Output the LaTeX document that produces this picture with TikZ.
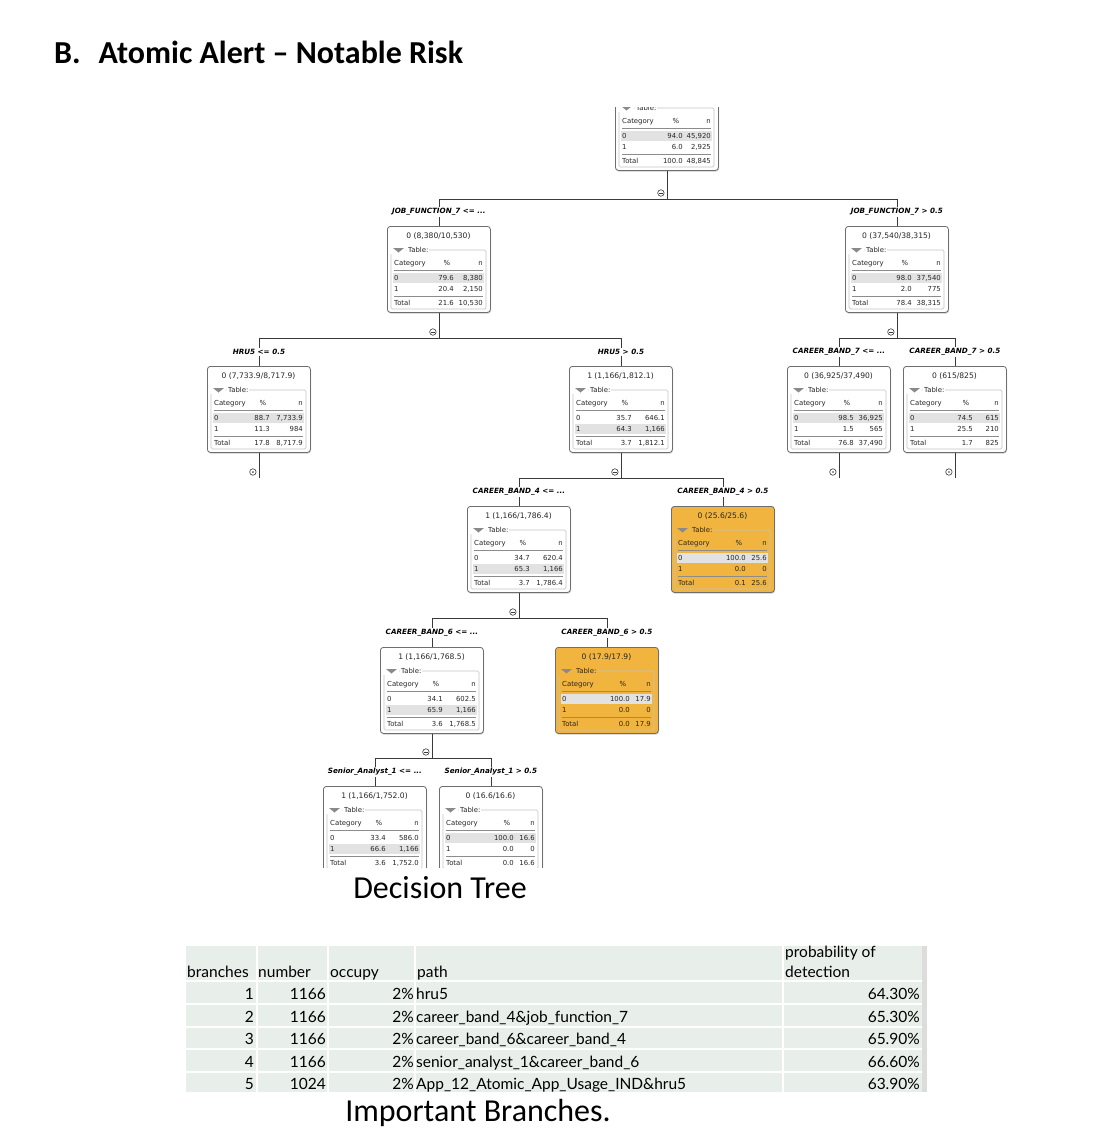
\documentclass[tikz,border=0pt]{standalone}
\usepackage{fontspec}
\setmainfont{DejaVu Sans}
\newfontfamily\capfont{Carlito}
\newfontfamily\tabfont{Lato}
\usetikzlibrary{calc}
\definecolor{boxline}{HTML}{6E6E6E}
\definecolor{edgecol}{HTML}{3A3A3A}
\definecolor{hlgray}{HTML}{E2E2E2}
\definecolor{framegray}{HTML}{C4C4C4}
\definecolor{orangebox}{RGB}{241,180,62}
\definecolor{tabbg}{HTML}{E8EFEB}
\definecolor{stripgray}{HTML}{DCDCDC}
\definecolor{trigray}{HTML}{8A8A8A}
\newcommand\tinyfont{\fontsize{6.9}{7}\selectfont}
\newcommand\hdrfont{\fontsize{7.6}{8}\selectfont}
\newcommand\lblfont{\fontsize{7.2}{8}\selectfont\bfseries\itshape}
\pgfkeys{/tb/.is family,/tb/.cd,
  pc/.store in=\tbpc, hl/.store in=\tbhl, bg/.store in=\tbbg,
  bx/.store in=\tbx, by/.store in=\tby}
\tikzset{
  tt/.style={font=\tinyfont, inner sep=0, text=black!85},
  treebox/.style={draw=boxline, line width=0.8, rounded corners=3, minimum width=103, minimum height=86, inner sep=0, anchor=north west},
  edge/.style={draw=edgecol, line width=0.8},
  lbl/.style={font=\lblfont, fill=white, inner sep=1},
  mcirc/.style={circle, draw=edgecol, fill=white, minimum size=6.5, inner sep=0, line width=0.6,
    path picture={\draw[edgecol, line width=0.6] ($(path picture bounding box.west)+(1.6,0)$) -- ($(path picture bounding box.east)+(-1.6,0)$);}},
  pcirc/.style={circle, draw=edgecol, fill=white, minimum size=6.5, inner sep=0, line width=0.6,
    path picture={\fill[edgecol] (path picture bounding box.center) circle (0.9);}},
  tabtxt/.style={font=\tabfont\fontsize{15.5}{17}\selectfont, inner sep=0},
  captxt/.style={font=\capfont\fontsize{32}{34}\selectfont, inner sep=0},
}
% box: [opts]{name}{header}{r0%}{r0n}{r1%}{r1n}{tot%}{totn}
\newcommand\tbox[9][]{%
  \pgfkeys{/tb/.cd,pc=68,hl=0,bg=white,bx=0,by=0,#1}%
  \fill[black!20, rounded corners=3] (\tbx+1,\tby+1.6) rectangle ++(103,86);
  \node[treebox, fill=\tbbg] (#2) at (\tbx,\tby) {};
  \begin{scope}[shift={(\tbx,\tby)}]
    \if\relax\detokenize{#3}\relax\else
      \node[tt, font=\hdrfont, anchor=base] (#2-h) at (51.5,12) {#3};\fi
    \draw[framegray, line width=0.7, rounded corners=1.5] (4,24) rectangle (99,83);
    \fill[\tbbg] (3,20.5) rectangle (19,27.5);
    \fill[trigray] (6,22) -- (17,22) -- (11.5,26.5) -- cycle;
    \node[tt, anchor=base west, fill=\tbbg, inner xsep=1, inner ysep=1] (#2-t) at (20,26.5) {Table:};
    \fill[hlgray] (6,46.5+11*\tbhl) rectangle (97,56.5+11*\tbhl);
    \node[tt, anchor=base west] (#2-c) at (7,39.5) {Category};
    \node[tt, anchor=base] (#2-p) at (\tbpc-7,39.5) {\%};
    \node[tt, anchor=base east] (#2-n) at (96,39.5) {n};
    \draw[black!45, line width=1] (7,44.5) -- (96,44.5);
    \draw[black!45, line width=1] (7,70) -- (96,70);
    \node[tt, anchor=base west] (#2-r0) at (7,54) {0};
    \node[tt, anchor=base east] (#2-r0p) at (\tbpc,54) {#4};
    \node[tt, anchor=base east] (#2-r0n) at (96,54) {#5};
    \node[tt, anchor=base west] (#2-r1) at (7,65) {1};
    \node[tt, anchor=base east] (#2-r1p) at (\tbpc,65) {#6};
    \node[tt, anchor=base east] (#2-r1n) at (96,65) {#7};
    \node[tt, anchor=base west] (#2-tt) at (7,79.5) {Total};
    \node[tt, anchor=base east] (#2-tp) at (\tbpc,79.5) {#8};
    \node[tt, anchor=base east] (#2-tn) at (96,79.5) {#9};
  \end{scope}}
\newcommand\tsplit[4]{%
  \coordinate (#1-y) at (0,#4);
  \draw[edge] (#1.south) -- (#1.south |- #1-y);
  \draw[edge] (#2.north) |- (#3.north |- #1-y) -- (#3.north);
  \node[mcirc] (#1-m) at ($(#1.south |- #1-y)+(-6,-6)$) {};}
\newcommand\tleaf[2]{%
  \coordinate (#1-y) at (0,#2);
  \draw[edge] (#1.south) -- (#1.south |- #1-y);
  \node[pcirc] (#1-m) at ($(#1.south |- #1-y)+(-6,-6)$) {};}
\newcommand\tlabel[2]{\node[lbl] (#1-l) at ($(#1.north)+(0,-14)$) {#2};}

\begin{document}
\begin{tikzpicture}[x=1pt,y=-1pt]
\useasboundingbox[fill=white] (0,0) rectangle (1114,1146);
\node[font=\capfont\bfseries\fontsize{32}{34}\selectfont, anchor=base west, inner sep=0] (title) at (54,63) {B.\hspace{18pt}Atomic Alert – Notable Risk};

\begin{scope}
\clip (0,107) rectangle (1114,867);
\tbox[bx=615,by=84,pc=68]{root}{}{94.0}{45,920}{6.0}{2,925}{100.0}{48,845}
\tbox[bx=387,by=226,pc=67]{jf7l}{0 (8,380/10,530)}{79.6}{8,380}{20.4}{2,150}{21.6}{10,530}
\tbox[bx=845,by=226,pc=67]{jf7r}{0 (37,540/38,315)}{98.0}{37,540}{2.0}{775}{78.4}{38,315}
\tbox[bx=207,by=366,pc=63]{hrul}{0 (7,733.9/8,717.9)}{88.7}{7,733.9}{11.3}{984}{17.8}{8,717.9}
\tbox[bx=569,by=366,pc=63,hl=1]{hrur}{1 (1,166/1,812.1)}{35.7}{646.1}{64.3}{1,166}{3.7}{1,812.1}
\tbox[bx=787,by=366,pc=67]{cb7l}{0 (36,925/37,490)}{98.5}{36,925}{1.5}{565}{76.8}{37,490}
\tbox[bx=903,by=366,pc=70]{cb7r}{0 (615/825)}{74.5}{615}{25.5}{210}{1.7}{825}
\tbox[bx=467,by=506,pc=63,hl=1]{cb4l}{1 (1,166/1,786.4)}{34.7}{620.4}{65.3}{1,166}{3.7}{1,786.4}
\tbox[bx=671,by=506,pc=75,bg=orangebox]{cb4r}{0 (25.6/25.6)}{100.0}{25.6}{0.0}{0}{0.1}{25.6}
\tbox[bx=380,by=647,pc=63,hl=1]{cb6l}{1 (1,166/1,768.5)}{34.1}{602.5}{65.9}{1,166}{3.6}{1,768.5}
\tbox[bx=555,by=647,pc=75,bg=orangebox]{cb6r}{0 (17.9/17.9)}{100.0}{17.9}{0.0}{0}{0.0}{17.9}
\tbox[bx=323,by=786,pc=63,hl=1]{sa1l}{1 (1,166/1,752.0)}{33.4}{586.0}{66.6}{1,166}{3.6}{1,752.0}
\tbox[bx=439,by=786,pc=75]{sa1r}{0 (16.6/16.6)}{100.0}{16.6}{0.0}{0}{0.0}{16.6}

\tsplit{root}{jf7l}{jf7r}{199}
\tsplit{jf7l}{hrul}{hrur}{338}
\tsplit{jf7r}{cb7l}{cb7r}{338}
\tsplit{hrur}{cb4l}{cb4r}{478}
\tsplit{cb4l}{cb6l}{cb6r}{618}
\tsplit{cb6l}{sa1l}{sa1r}{758}
\tleaf{hrul}{478}
\tleaf{cb7l}{478}
\tleaf{cb7r}{478}

\tlabel{jf7l}{JOB\_FUNCTION\_7 <= ...}
\tlabel{jf7r}{JOB\_FUNCTION\_7 > 0.5}
\tlabel{hrul}{HRU5 <= 0.5}
\tlabel{hrur}{HRU5 > 0.5}
\tlabel{cb7l}{CAREER\_BAND\_7 <= ...}
\tlabel{cb7r}{CAREER\_BAND\_7 > 0.5}
\tlabel{cb4l}{CAREER\_BAND\_4 <= ...}
\tlabel{cb4r}{CAREER\_BAND\_4 > 0.5}
\tlabel{cb6l}{CAREER\_BAND\_6 <= ...}
\tlabel{cb6r}{CAREER\_BAND\_6 > 0.5}
\tlabel{sa1l}{Senior\_Analyst\_1 <= ...}
\tlabel{sa1r}{Senior\_Analyst\_1 > 0.5}
\end{scope}

\node[captxt] (cap1) at (440,888) {Decision Tree};

% table
\fill[tabbg] (186,946) rectangle (922,1092);
\fill[stripgray] (922,946) rectangle (927,1092);
\foreach \xx in {257,328,415,783} {\draw[white, line width=1.6] (\xx,946) -- (\xx,1092);}
\foreach \yy in {981,1004,1027,1049,1072} {\draw[white, line width=1.6] (186,\yy) -- (922,\yy);}
\node[tabtxt, anchor=base west] (h1) at (187,977) {branches};
\node[tabtxt, anchor=base west] (h2) at (258,977) {number};
\node[tabtxt, anchor=base west] (h3) at (330,977) {occupy};
\node[tabtxt, anchor=base west] (h4) at (417,977) {path};
\node[tabtxt, anchor=base west] (h5a) at (785,957) {probability of};
\node[tabtxt, anchor=base west] (h5b) at (785,977) {detection};
\foreach \b/\n/\p/\q [count=\i] in {1/1166/hru5/64.30\%,
  2/1166/career\_band\_4\&job\_function\_7/65.30\%,
  3/1166/career\_band\_6\&career\_band\_4/65.90\%,
  4/1166/senior\_analyst\_1\&career\_band\_6/66.60\%,
  5/1024/App\_12\_Atomic\_App\_Usage\_IND\&hru5/63.90\%} {
  \pgfmathsetmacro\yb{977.5+22.4*\i}
  \node[tabtxt, anchor=base east] (b\i) at (254,\yb) {\b};
  \node[tabtxt, anchor=base east] (n\i) at (326,\yb) {\n};
  \node[tabtxt, anchor=base east] (o\i) at (414,\yb) {2\%};
  \node[tabtxt, anchor=base west] (p\i) at (416,\yb) {\p};
  \node[tabtxt, anchor=base east] (q\i) at (920,\yb) {\q};
}
\node[captxt] (cap2) at (478,1113) {Important Branches.};
\end{tikzpicture}
\end{document}
